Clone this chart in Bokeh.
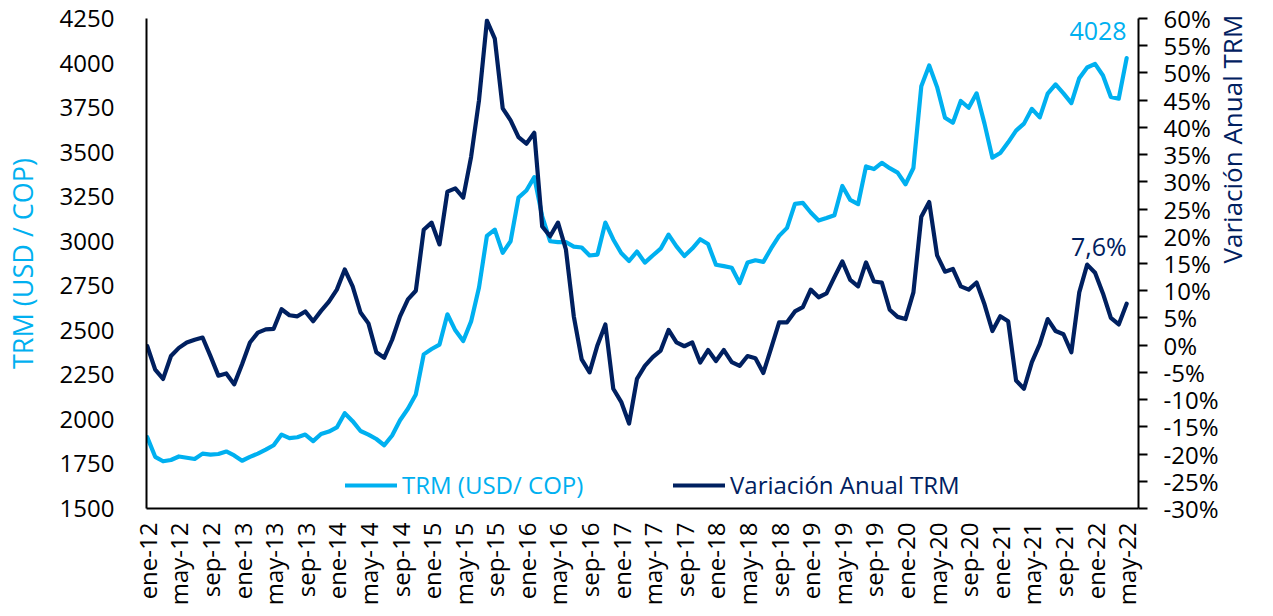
from math import pi
from bokeh.plotting import figure
from bokeh.models import Range1d, LinearAxis, FixedTicker, Legend, LegendItem, Label
from bokeh.embed import file_html
from bokeh.resources import INLINE

# ---------------- data (monthly, ene-12 .. may-22) ----------------
month_abbr = ["ene", "feb", "mar", "abr", "may", "jun", "jul", "ago", "sep", "oct", "nov", "dic"]
years = ["12", "13", "14", "15", "16", "17", "18", "19", "20", "21", "22"]

trm_2012 = [1900, 1790, 1765, 1772, 1792, 1785, 1778, 1808, 1802, 1806, 1820, 1798]
trm_2013 = [1768, 1790, 1808, 1830, 1855, 1915, 1895, 1900, 1915, 1878, 1918, 1932]
trm_2014 = [1955, 2035, 1990, 1935, 1915, 1890, 1855, 1910, 1995, 2060, 2140, 2365]
trm_2015 = [2395, 2420, 2590, 2500, 2440, 2550, 2740, 3030, 3065, 2935, 3000, 3245]
trm_2016 = [3285, 3360, 3140, 3000, 2995, 2995, 2970, 2965, 2920, 2925, 3105, 3010]
trm_2017 = [2934, 2889, 2942, 2880, 2920, 2958, 3037, 2971, 2917, 2959, 3011, 2984]
trm_2018 = [2868, 2860, 2851, 2765, 2880, 2893, 2884, 2961, 3030, 3075, 3210, 3215]
trm_2019 = [3161, 3116, 3130, 3146, 3310, 3232, 3208, 3420, 3405, 3440, 3410, 3385]
trm_2020 = [3320, 3411, 3870, 3986, 3865, 3693, 3665, 3787, 3749, 3830, 3660, 3469]
trm_2021 = [3495, 3555, 3621, 3660, 3743, 3695, 3828, 3880, 3830, 3775, 3915, 3975]
trm_2022 = [3995, 3930, 3810, 3800, 4028]

var_2012 = [-0.2, -4.5, -6.2, -2.0, -0.5, 0.5, 1.0, 1.4, -2.0, -5.6, -5.2, -7.2]
var_2013 = [-3.5, 0.5, 2.3, 2.9, 3.0, 6.6, 5.5, 5.3, 6.2, 4.4, 6.3, 8.0]
var_2014 = [10.2, 13.9, 10.8, 6.0, 4.0, -1.3, -2.3, 1.0, 5.3, 8.4, 10.0, 21.2]
var_2015 = [22.5, 18.5, 28.2, 28.8, 27.1, 34.6, 45.0, 59.6, 56.3, 43.5, 41.3, 38.2]
var_2016 = [37.0, 39.0, 21.8, 20.0, 22.5, 17.6, 5.3, -2.6, -5.0, 0.0, 3.8, -8.0]
var_2017 = [-10.4, -14.4, -6.2, -3.8, -2.2, -1.0, 2.8, 0.5, -0.2, 0.5, -3.2, -0.9]
var_2018 = [-2.9, -0.9, -3.1, -3.8, -2.0, -2.4, -5.1, -0.5, 4.2, 4.2, 6.2, 7.0]
var_2019 = [10.2, 8.8, 9.5, 12.5, 15.4, 12.0, 10.8, 15.2, 11.7, 11.5, 6.5, 5.2]
var_2020 = [4.8, 9.7, 23.6, 26.3, 16.5, 13.5, 14.0, 10.8, 10.2, 11.5, 7.5, 2.6]
var_2021 = [5.3, 4.4, -6.5, -8.0, -3.1, 0.2, 4.8, 2.6, 2.0, -1.3, 9.7, 14.8]
var_2022 = [13.3, 9.5, 5.0, 3.8, 7.6]

left_ticks = [1500, 1750, 2000, 2250, 2500, 2750, 3000, 3250, 3500, 3750, 4000, 4250]
right_ticks = [-30, -25, -20, -15, -10, -5, 0, 5, 10, 15, 20, 25, 30, 35, 40, 45, 50, 55, 60]

trm = (trm_2012 + trm_2013 + trm_2014 + trm_2015 + trm_2016 + trm_2017 +
       trm_2018 + trm_2019 + trm_2020 + trm_2021 + trm_2022)
var = (var_2012 + var_2013 + var_2014 + var_2015 + var_2016 + var_2017 +
       var_2018 + var_2019 + var_2020 + var_2021 + var_2022)
dates = [f"{m}-{y}" for y in years for m in month_abbr][:len(trm)]
xs = list(range(len(trm)))

LIGHT = "#00B0F0"
NAVY = "#002060"
FONT = "Open Sans"

p = figure(width=1270, height=608,
           x_range=Range1d(-0.1, 125.5), y_range=Range1d(left_ticks[0], left_ticks[-1]),
           output_backend="svg", toolbar_location=None,
           min_border_left=146, min_border_right=130, min_border_top=18, min_border_bottom=98)
p.extra_y_ranges = {"pct": Range1d(right_ticks[0], right_ticks[-1])}
p.outline_line_color = None
p.xgrid.visible = False
p.ygrid.visible = False
p.background_fill_color = "white"
p.border_fill_color = "white"

right_axis = LinearAxis(y_range_name="pct")
p.add_layout(right_axis, "right")

# bottom axis
xa = p.xaxis[0]
xa.ticker = FixedTicker(ticks=xs[::4])
xa.major_label_overrides = {i: dates[i] for i in xs[::4]}
xa.major_label_orientation = pi / 2
xa.major_tick_line_color = None
xa.minor_tick_line_color = None
xa.axis_line_color = "black"
xa.axis_line_width = 2
xa.major_label_text_font = FONT
xa.major_label_text_font_size = "24px"
xa.major_label_text_color = "black"
xa.major_label_standoff = 8

# left axis
ya = p.yaxis[0]
ya.ticker = FixedTicker(ticks=left_ticks)
ya.major_tick_line_color = None
ya.minor_tick_line_color = None
ya.axis_line_color = "black"
ya.axis_line_width = 2
ya.major_label_text_font = FONT
ya.major_label_text_font_size = "24px"
ya.major_label_text_color = "black"
ya.major_label_standoff = 26
ya.axis_label = "TRM (USD / COP)"
ya.axis_label_text_font = FONT
ya.axis_label_text_font_size = "27px"
ya.axis_label_text_font_style = "normal"
ya.axis_label_text_color = LIGHT
ya.axis_label_standoff = 16

# right axis
right_axis.ticker = FixedTicker(ticks=right_ticks)
right_axis.major_label_overrides = {t: f"{t}%" for t in right_ticks}
right_axis.major_tick_in = 0
right_axis.major_tick_out = 9
right_axis.major_tick_line_width = 2
right_axis.minor_tick_line_color = None
right_axis.axis_line_color = "black"
right_axis.axis_line_width = 2
right_axis.major_label_text_font = FONT
right_axis.major_label_text_font_size = "24px"
right_axis.major_label_text_color = "black"
right_axis.major_label_standoff = 16
right_axis.axis_label = "Variación Anual TRM"
right_axis.axis_label_text_font = FONT
right_axis.axis_label_text_font_size = "26px"
right_axis.axis_label_text_font_style = "normal"
right_axis.axis_label_text_color = NAVY
right_axis.axis_label_standoff = 10
_props = right_axis.properties()
if "axis_label_orientation" in _props:
    right_axis.axis_label_orientation = pi / 2

r_trm = p.line(xs, trm, line_color=LIGHT, line_width=4.2, line_join="round", line_cap="round")
r_var = p.line(xs, var, line_color=NAVY, line_width=4.2, line_join="round", line_cap="round",
               y_range_name="pct")

def make_legend(label, renderer, color, loc):
    lg = Legend(items=[LegendItem(label=label, renderers=[renderer])], location=loc,
                orientation="horizontal", padding=0, margin=0, spacing=0,
                glyph_width=52, glyph_height=24, label_height=24, label_standoff=5,
                label_text_font=FONT, label_text_font_size="24px", label_text_color=color,
                border_line_color=None, background_fill_alpha=0)
    return lg

p.add_layout(make_legend("TRM (USD/ COP)", r_trm, LIGHT, (199, 7)))
p.add_layout(make_legend("Variación Anual TRM", r_var, NAVY, (527, 7)))

# value annotations at the last point
p.add_layout(Label(x=xs[-1], y=trm[-1], text=str(trm[-1]), text_align="right",
                   y_offset=18, text_font=FONT, text_font_size="25px", text_color=LIGHT))
p.add_layout(Label(x=xs[-1], y=var[-1], y_range_name="pct",
                   text=f"{var[-1]:.1f}".replace(".", ",") + "%", text_align="right",
                   y_offset=41, text_font=FONT, text_font_size="25px", text_color=NAVY))

open("out.html", "w").write(file_html(p, INLINE))
